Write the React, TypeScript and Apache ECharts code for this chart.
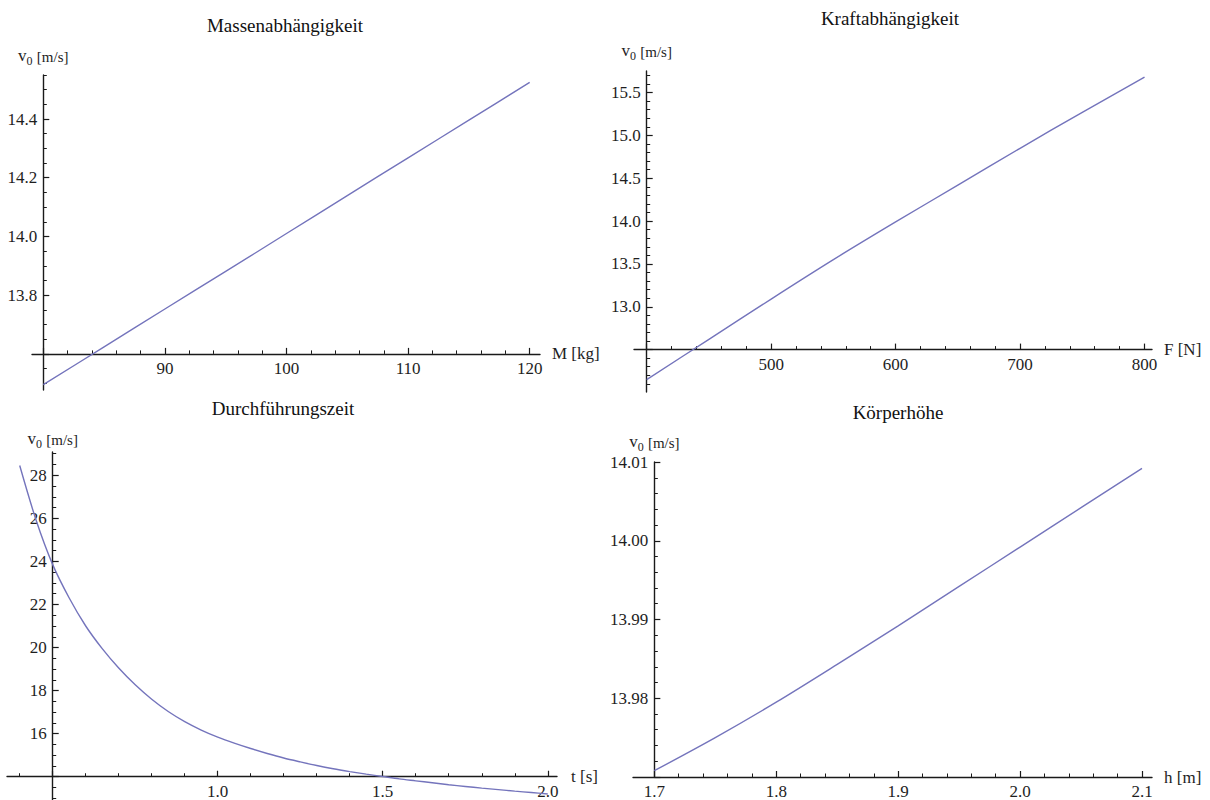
import React, { useEffect, useRef } from "react";
import * as echarts from "echarts";

// ---- data ----
const massKg = [80, 85, 90, 95, 100, 105, 110, 115, 120];
const massV0 = [13.495, 13.624, 13.753, 13.881, 14.01, 14.139, 14.268, 14.396, 14.525];

const forceN = [400, 450, 500, 550, 600, 650, 700, 750, 800];
const forceV0 = [12.15, 12.62, 13.09, 13.55, 13.99, 14.42, 14.85, 15.27, 15.68];

const timeS = [0.4, 0.45, 0.5, 0.55, 0.6, 0.65, 0.7, 0.75, 0.8, 0.85, 0.9, 0.95, 1.0, 1.05, 1.1, 1.15, 1.2, 1.25, 1.3, 1.35, 1.4, 1.45, 1.5, 1.55, 1.6, 1.65, 1.7, 1.75, 1.8, 1.85, 1.9, 1.95, 2.0];
const timeV0 = [28.45, 25.9, 23.85, 22.3, 21.0, 19.95, 19.05, 18.27, 17.6, 17.03, 16.56, 16.17, 15.84, 15.56, 15.31, 15.08, 14.87, 14.69, 14.52, 14.37, 14.24, 14.12, 14.01, 13.9, 13.81, 13.72, 13.63, 13.55, 13.47, 13.4, 13.33, 13.265, 13.2];

const heightM = [1.7, 1.75, 1.8, 1.85, 1.9, 1.95, 2.0, 2.05, 2.1];
const heightV0 = [13.9708, 13.975, 13.9795, 13.9843, 13.9892, 13.9942, 13.9992, 14.0042, 14.0092];

// tick labels
const massXLabels = [90, 100, 110, 120];
const massYLabels = [13.8, 14.0, 14.2, 14.4];
const forceXLabels = [500, 600, 700, 800];
const forceYLabels = [13.0, 13.5, 14.0, 14.5, 15.0, 15.5];
const timeXLabels = [1.0, 1.5, 2.0];
const timeYLabels = [16, 18, 20, 22, 24, 26, 28];
const heightXLabels = [1.7, 1.8, 1.9, 2.0, 2.1];
const heightYLabels = [13.98, 13.99, 14.0, 14.01];

function ticks(start: number, end: number, step: number): number[] {
  const out: number[] = [];
  const a = Math.round(start / step);
  const b = Math.round(end / step);
  for (let i = a; i <= b; i++) out.push(parseFloat((i * step).toFixed(6)));
  return out;
}

const FONT = "Liberation Serif";
const LINE_COLOR = "#7474bc";
const AXIS_COLOR = "#1a1a1a";
const TEXT_COLOR = "#1e1e1e";
const TICK_FS = 17;

const panels = [
  {
    title: "Massenabhängigkeit", titleX: 285, titleY: 25,
    xName: "M [kg]", xNameGap: 12, yNameGap: 11,
    left: 32, top: 75, width: 508, height: 315,
    xMin: 79.07, xMax: 120.85, yMin: 13.477, yMax: 14.55,
    xCross: 80, yCross: 13.6,
    xMajor: ticks(80, 120, 10), xMinor: ticks(80, 120, 2),
    yMajor: ticks(13.6, 14.4, 0.2), yMinor: ticks(13.5, 14.55, 0.05),
    xLabels: massXLabels, yLabels: massYLabels, xDec: 0, yDec: 1,
    xs: massKg, ys: massV0,
  },
  {
    title: "Kraftabhängigkeit", titleX: 890, titleY: 18,
    xName: "F [N]", xNameGap: 12, yNameGap: 12,
    left: 634, top: 71, width: 518, height: 321,
    xMin: 389.8, xMax: 806, yMin: 12.005, yMax: 15.752,
    xCross: 400, yCross: 12.5,
    xMajor: ticks(400, 800, 100), xMinor: ticks(400, 800, 20),
    yMajor: ticks(12.5, 15.5, 0.5), yMinor: ticks(12.1, 15.7, 0.1),
    xLabels: forceXLabels, yLabels: forceYLabels, xDec: 0, yDec: 1,
    xs: forceN, ys: forceV0,
  },
  {
    title: "Durchführungszeit", titleX: 283, titleY: 408,
    xName: "t [s]", xNameGap: 14, yNameGap: 5,
    left: 7, top: 452, width: 550, height: 348,
    xMin: 0.3615, xMax: 2.028, yMin: 12.92, yMax: 29.08,
    xCross: 0.5, yCross: 14,
    xMajor: ticks(0.5, 2.0, 0.5), xMinor: ticks(0.4, 2.0, 0.1),
    yMajor: ticks(14, 28, 2), yMinor: ticks(13, 29, 0.5),
    xLabels: timeXLabels, yLabels: timeYLabels, xDec: 1, yDec: 0,
    xs: timeS, ys: timeV0,
  },
  {
    title: "Körperhöhe", titleX: 898, titleY: 412,
    xName: "h [m]", xNameGap: 12, yNameGap: 12,
    left: 633, top: 462, width: 519, height: 315,
    xMin: 1.6825, xMax: 2.1082, yMin: 13.97, yMax: 14.01,
    xCross: 1.7, yCross: 13.97,
    xMajor: ticks(1.7, 2.1, 0.1), xMinor: ticks(1.7, 2.1, 0.02),
    yMajor: ticks(13.97, 14.01, 0.01), yMinor: ticks(13.97, 14.01, 0.002),
    xLabels: heightXLabels, yLabels: heightYLabels, xDec: 1, yDec: 2,
    xs: heightM, ys: heightV0,
  },
];

const labelRich = {
  t: { fontFamily: FONT, fontSize: TICK_FS, color: TEXT_COLOR },
};

function buildOption() {
  const grid: any[] = [];
  const xAxis: any[] = [];
  const yAxis: any[] = [];
  const series: any[] = [];
  const graphic: any[] = [];

  panels.forEach((p, i) => {
    grid.push({ left: p.left, top: p.top, width: p.width, height: p.height, containLabel: false });
    const xOff = -p.height * (p.yCross - p.yMin) / (p.yMax - p.yMin);
    const yOff = -p.width * (p.xCross - p.xMin) / (p.xMax - p.xMin);

    xAxis.push({
      type: "value", gridIndex: i, min: p.xMin, max: p.xMax, position: "bottom", offset: xOff,
      axisLine: { show: true, onZero: false, lineStyle: { color: AXIS_COLOR, width: 1.4 } },
      axisTick: { show: true, inside: true, length: 6, customValues: p.xMajor, lineStyle: { color: AXIS_COLOR, width: 1.2 } },
      axisLabel: {
        show: true, customValues: p.xLabels, margin: 6,
        formatter: (v: number) => `{t|${Number(v).toFixed(p.xDec)}}`,
        fontFamily: FONT, fontSize: TICK_FS, color: TEXT_COLOR, rich: labelRich,
      },
      splitLine: { show: false },
      name: p.xName, nameLocation: "end", nameGap: p.xNameGap,
      nameTextStyle: { fontFamily: FONT, fontSize: 17, color: TEXT_COLOR },
    });
    xAxis.push({
      type: "value", gridIndex: i, min: p.xMin, max: p.xMax, position: "bottom", offset: xOff,
      axisLine: { show: false, onZero: false },
      axisTick: { show: true, inside: true, length: 3.5, customValues: p.xMinor, lineStyle: { color: AXIS_COLOR, width: 1 } },
      axisLabel: { show: false },
      splitLine: { show: false },
    });

    yAxis.push({
      type: "value", gridIndex: i, min: p.yMin, max: p.yMax, position: "left", offset: yOff,
      axisLine: { show: true, onZero: false, lineStyle: { color: AXIS_COLOR, width: 1.4 } },
      axisTick: { show: true, inside: true, length: 6, customValues: p.yMajor, lineStyle: { color: AXIS_COLOR, width: 1.2 } },
      axisLabel: {
        show: true, customValues: p.yLabels, margin: 6,
        formatter: (v: number) => `{t|${Number(v).toFixed(p.yDec)}}`,
        fontFamily: FONT, fontSize: TICK_FS, color: TEXT_COLOR, rich: labelRich,
      },
      splitLine: { show: false },
      name: "{v|v}{s|0} {u|[m/s]}", nameLocation: "end", nameGap: p.yNameGap,
      nameTextStyle: {
        fontFamily: FONT, color: TEXT_COLOR,
        rich: {
          v: { fontFamily: FONT, fontSize: 17, color: TEXT_COLOR, lineHeight: 17, verticalAlign: "bottom" },
          s: { fontFamily: FONT, fontSize: 12, color: TEXT_COLOR, lineHeight: 12, verticalAlign: "bottom", padding: [0, 0, -3, 0] },
          u: { fontFamily: FONT, fontSize: 15, color: TEXT_COLOR, lineHeight: 17, verticalAlign: "bottom" },
        },
      },
    });
    yAxis.push({
      type: "value", gridIndex: i, min: p.yMin, max: p.yMax, position: "left", offset: yOff,
      axisLine: { show: false, onZero: false },
      axisTick: { show: true, inside: true, length: 3.5, customValues: p.yMinor, lineStyle: { color: AXIS_COLOR, width: 1 } },
      axisLabel: { show: false },
      splitLine: { show: false },
    });

    series.push({
      type: "line", xAxisIndex: 2 * i, yAxisIndex: 2 * i,
      data: p.xs.map((x, j) => [x, p.ys[j]]),
      showSymbol: false, smooth: 0.3, silent: true, clip: true, z: 5,
      lineStyle: { color: LINE_COLOR, width: 1.4 },
    });

    graphic.push({
      type: "text", x: p.titleX, y: p.titleY,
      style: {
        text: p.title, fill: "#111", font: `19px ${FONT}`,
        textAlign: "center", textVerticalAlign: "middle",
      },
    });
  });

  return {
    animation: false,
    backgroundColor: "#ffffff",
    textStyle: { fontFamily: FONT, fontSize: TICK_FS, color: TEXT_COLOR },
    grid, xAxis, yAxis, series, graphic,
  };
}

export default function App() {
  const ref = useRef<HTMLDivElement>(null);
  useEffect(() => {
    if (!ref.current) return;
    const chart = echarts.init(ref.current, null, { renderer: "svg" });
    chart.setOption(buildOption() as any);
    return () => chart.dispose();
  }, []);
  return (
    <div
      ref={ref}
      style={{ position: "absolute", left: 0, top: 0, width: 1210, height: 800, background: "#fff" }}
    />
  );
}
